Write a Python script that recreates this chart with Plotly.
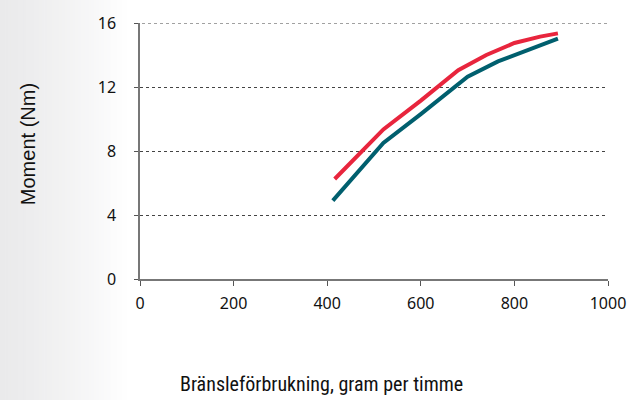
import plotly.graph_objects as go

# Data
red_x = [416, 520, 600, 680, 740, 800, 855, 893]
red_y = [6.25, 9.35, 11.15, 13.05, 14.0, 14.75, 15.15, 15.35]
teal_x = [412, 520, 600, 700, 765, 820, 893]
teal_y = [4.9, 8.5, 10.3, 12.65, 13.6, 14.2, 15.03]

x_ticks = [0, 200, 400, 600, 800, 1000]
y_ticks = [0, 4, 8, 12, 16]

W, H = 641, 400
L, R, T, B = 140, 33, 17, 121
pw = W - L - R
ph = H - T - B

fig = go.Figure()
fig.add_trace(go.Scatter(x=teal_x, y=teal_y, mode="lines",
                         line=dict(color="#005f6e", width=4), showlegend=False))
fig.add_trace(go.Scatter(x=red_x, y=red_y, mode="lines",
                         line=dict(color="#e8253d", width=4), showlegend=False))

# left background gradient (decoration)
shapes = []
n = 50
span = 130
for i in range(n):
    p0 = i * span / n
    p1 = (i + 1) * span / n
    t = (i + 0.5) / n
    k = t ** 1.3
    g = round(234 + (255 - 234) * k)
    b = round(235 + (255 - 235) * k)
    shapes.append(dict(type="rect", xref="paper", yref="paper",
                       x0=(p0 - L) / pw, x1=(p1 - L + 0.6) / pw,
                       y0=-2, y1=2, line=dict(width=0),
                       fillcolor=f"rgb({g},{g},{b})", layer="below"))
# top gridline (at the range edge)
shapes.append(dict(type="line", xref="paper", yref="y", x0=-4 / pw, x1=1, y0=16, y1=16,
                   line=dict(color="#444", width=1, dash="3px,3px"), layer="below"))

fig.update_layout(
    width=W, height=H,
    margin=dict(l=L, r=R, t=T, b=B),
    paper_bgcolor="white", plot_bgcolor="white",
    shapes=shapes,
    font=dict(family="Noto Sans, Open Sans, sans-serif", size=16, color="#111"),
    xaxis=dict(range=[0, 1000], tickvals=x_ticks, showgrid=False, zeroline=False,
               showline=True, linecolor="#777", linewidth=1.5,
               ticks="outside", ticklen=5, tickcolor="#555", tickwidth=1,
               ticklabelstandoff=4, fixedrange=True),
    yaxis=dict(range=[0, 16], tickvals=y_ticks, showgrid=True,
               gridcolor="#444", griddash="3px,3px", gridwidth=1, zeroline=False,
               showline=True, linecolor="#777", linewidth=1.5,
               ticks="outside", ticklen=4, tickcolor="#555", tickwidth=1,
               ticklabelstandoff=15, fixedrange=True),
    annotations=[
        dict(text="Bränsleförbrukning, gram per timme", xref="paper", yref="paper",
             x=(321 - L) / pw, y=(H - B - 386) / ph, yanchor="middle", xanchor="center",
             showarrow=False, font=dict(family="Liberation Sans Narrow, Roboto Condensed, Roboto, sans-serif", size=20, color="#111")),
        dict(text="Moment (Nm)", xref="paper", yref="paper", textangle=-90,
             x=(28 - L) / pw, y=(H - B - 141) / ph, xanchor="center", yanchor="middle",
             showarrow=False, font=dict(family="Liberation Sans, Arial, sans-serif", size=20, color="#111")),
    ],
)

fig.write_html("out.html", config={"displayModeBar": False},
               post_script="document.body.style.margin='0';")
